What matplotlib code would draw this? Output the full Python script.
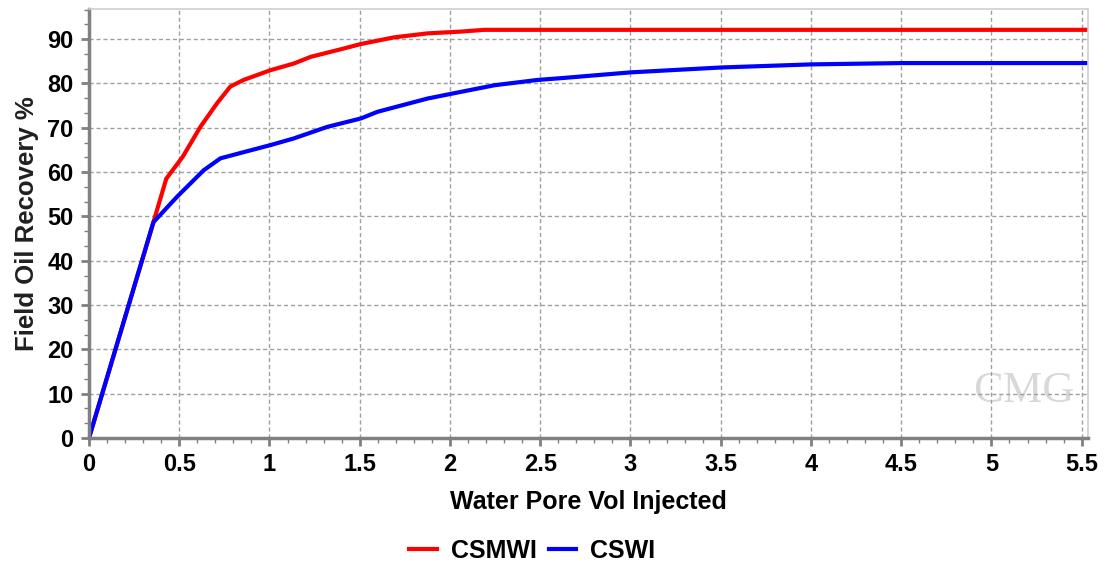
import numpy as np
import matplotlib.pyplot as plt
from matplotlib.ticker import MultipleLocator

# pore volumes injected vs recovery (%)
csmwi_x = [0, 0.357, 0.428, 0.52, 0.617, 0.709, 0.783, 0.857, 1.006, 1.135, 1.228,
           1.413, 1.506, 1.69, 1.876, 2.06, 2.19, 2.5, 3.0, 4.0, 5.0, 5.54]
csmwi_y = [0, 48.7, 58.5, 63.5, 70.2, 75.5, 79.3, 80.8, 83.0, 84.5, 86.0,
           87.9, 88.9, 90.4, 91.3, 91.7, 92.1, 92.1, 92.1, 92.1, 92.1, 92.1]

cswi_x = [0, 0.357, 0.487, 0.635, 0.728, 0.857, 1.006, 1.135, 1.32, 1.506, 1.598,
          1.876, 2.06, 2.247, 2.487, 2.617, 3.0, 3.5, 4.0, 4.5, 5.0, 5.54]
cswi_y = [0, 48.7, 54.4, 60.4, 63.1, 64.5, 66.1, 67.6, 70.2, 72.1, 73.6,
          76.6, 78.1, 79.6, 80.8, 81.2, 82.5, 83.6, 84.3, 84.6, 84.6, 84.6]

plt.rcParams['font.family'] = ['Liberation Sans', 'DejaVu Sans']

fig = plt.figure(figsize=(11.09, 5.61), dpi=100)
ax = fig.add_axes([89 / 1109, 1 - 438 / 561, (1088 - 89) / 1109, (438 - 9) / 561])

ax.plot(csmwi_x, csmwi_y, color='#ff0000', lw=3, label='CSMWI')
ax.plot(cswi_x, cswi_y, color='#0000ff', lw=3, label='CSWI')

ax.set_xlim(0, 5.535)
ax.set_ylim(0, 96.8)
ax.xaxis.set_major_locator(MultipleLocator(0.5))
ax.xaxis.set_minor_locator(MultipleLocator(0.1))
ax.yaxis.set_major_locator(MultipleLocator(10))
ax.yaxis.set_minor_locator(MultipleLocator(10 / 3))
ax.xaxis.set_major_formatter(plt.FuncFormatter(lambda v, p: f'{v:g}'))

ax.grid(True, which='major', ls=(0, (3, 2)), color='#a0a0a0', lw=1)
ax.tick_params(which='major', length=6, width=2, color='#808080', labelsize=17, pad=5)
ax.tick_params(which='minor', length=3.5, width=1, color='#808080')
for lab in ax.get_xticklabels() + ax.get_yticklabels():
    lab.set_fontweight('bold')

for s in ['left', 'bottom']:
    ax.spines[s].set_color('#808080')
    ax.spines[s].set_linewidth(2.5)
for s in ['top', 'right']:
    ax.spines[s].set_color('#d0d0d0')
    ax.spines[s].set_linewidth(1.2)

ax.set_xlabel('Water Pore Vol Injected', fontsize=18, fontweight='bold', labelpad=10)
ax.set_ylabel('Field Oil Recovery %', fontsize=18.5, fontweight='bold', color='#202020', labelpad=6)

# faint watermark
ax.text(5.18, 10.5, 'CMG', color='#d8d8d8', fontsize=32, family='Liberation Serif',
        ha='center', va='center', zorder=0)

fig.legend(loc='lower center', bbox_to_anchor=(0.48, -0.043), ncol=2, frameon=False,
           prop={'weight': 'bold', 'size': 18}, handlelength=1.1, columnspacing=0.5,
           handletextpad=0.55)

fig.savefig('out.png', dpi=100)
